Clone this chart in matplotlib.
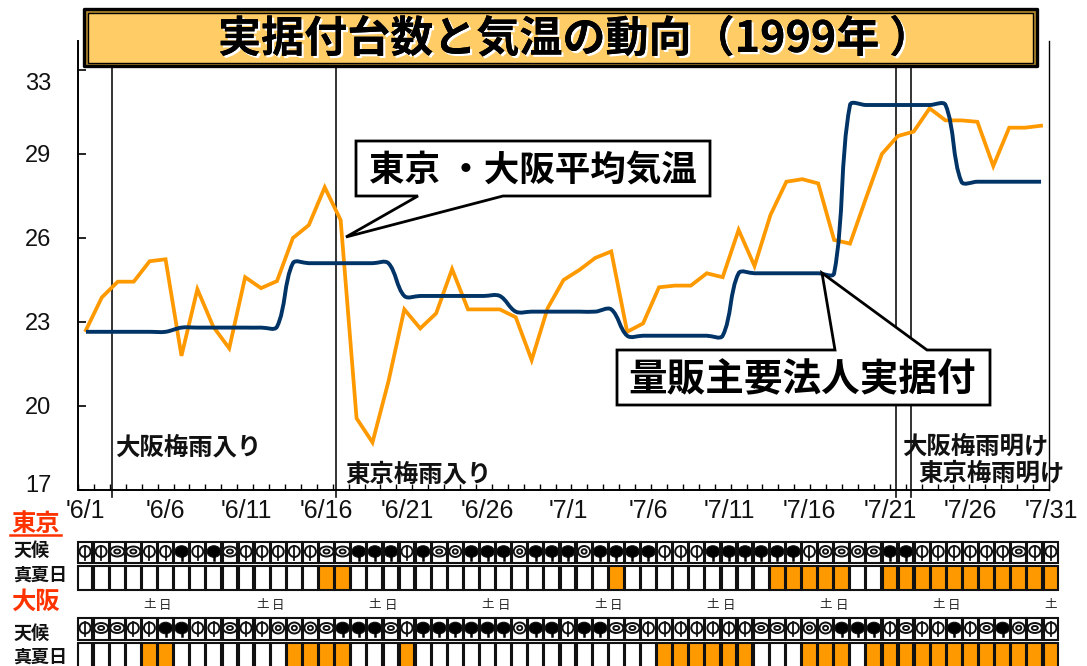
import numpy as np
import matplotlib
matplotlib.use('Agg')
import matplotlib.pyplot as plt
import matplotlib.patheffects as pe
from matplotlib.patches import Ellipse, Polygon, Rectangle, PathPatch
from matplotlib.path import Path
from matplotlib.transforms import ScaledTranslation

JP = ['Noto Sans CJK JP', 'DejaVu Sans']
plt.rcParams['font.family'] = ['Liberation Sans', 'Noto Sans CJK JP', 'DejaVu Sans']

# ---------- data ----------
temperature = [22.71, 23.88, 24.44, 24.44, 25.17, 25.24, 21.79, 24.17, 22.83, 22.06,
               24.60, 24.21, 24.46, 26.00, 26.46, 27.81, 26.64, 19.56, 18.70, 20.87,
               23.45, 22.77, 23.31, 24.89, 23.45, 23.45, 23.45, 23.17, 21.64, 23.49,
               24.50, 24.86, 25.29, 25.52, 22.65, 22.95, 24.24, 24.30, 24.30, 24.74,
               24.60, 26.29, 25.00, 26.82, 28.01, 28.10, 27.95, 25.93, 25.80, 27.42,
               29.00, 29.64, 29.80, 30.63, 30.20, 30.20, 30.15, 28.57, 29.94, 29.94, 30.01]
sales = [22.65, 22.65, 22.65, 22.65, 22.65, 22.65, 22.80, 22.80, 22.80, 22.80,
         22.80, 22.80, 22.83, 25.10, 25.10, 25.10, 25.10, 25.10, 25.10, 25.10,
         23.93, 23.93, 23.93, 23.93, 23.93, 23.93, 23.93, 23.37, 23.37, 23.37,
         23.37, 23.37, 23.37, 23.45, 22.51, 22.51, 22.51, 22.51, 22.51, 22.51,
         22.51, 24.74, 24.74, 24.74, 24.74, 24.74, 24.74, 24.74, 30.75, 30.75,
         30.75, 30.75, 30.75, 30.75, 30.75, 28.01, 28.01, 28.01, 28.01, 28.01, 28.01]
y_ticks = [17, 20, 23, 26, 29, 32]
y_tick_labels = ['17', '20', '23', '26', '29', '33']
y_label_shift_px = [-7, 0, 0, 0, 0, 11]
date_ticks = [0, 5, 10, 15, 20, 25, 30, 35, 40, 45, 50, 55, 60]
date_labels = ["'6/1", "'6/6", "'6/11", "'6/16", "'6/21", "'6/26", "'7/1",
               "'7/6", "'7/11", "'7/16", "'7/21", "'7/26", "'7/31"]
rain_events = [1.64, 15.7, 50.9, 51.8]

tokyo_weather = 'ccoocc' + 'rcroccccc' + 'oor' + 'rrcrotrrrtrrrtrrrrcccr' + 'rrrrrctotorrccccccocc'
osaka_weather = 'coocc' + 'rrccoccttto' + 'rr' + 'rocrrrrrrtrrcrroocccc' + 'c' + 'ccoocttrrrcoccrcortoc'
tokyo_hot = [15, 16, 33, 43, 44, 45, 46, 47, 50, 51, 52, 53, 54, 55, 56, 57, 58, 59, 60]
osaka_hot = [4, 5, 13, 14, 15, 16, 20, 36, 37, 38, 39, 40, 41, 45, 46, 47,
             49, 50, 51, 52, 53, 54, 55, 56, 57, 58, 59, 60]
saturdays = [4, 11, 18, 25, 32, 39, 46, 53, 60]
sundays = [5, 12, 19, 26, 33, 40, 47, 54]

W, H = 1087, 666
ORANGE = '#FF9900'
NAVY = '#003366'
RED = '#FF3300'
fig = plt.figure(figsize=(W / 100, H / 100), dpi=100, facecolor='white')


def px_axes(l, t, r, b, **kw):
    return fig.add_axes([l / W, 1 - b / H, (r - l) / W, (b - t) / H], **kw)


# ---------- main chart ----------
ax = px_axes(78, 41, 1049, 490)
n = len(temperature)
x = np.arange(n)
ax.set_xlim(-0.5, n - 0.5)
ax.set_ylim(17, 32 + 29 / 28)
ax.spines['top'].set_visible(False)
for s in ('left', 'right', 'bottom'):
    ax.spines[s].set_linewidth(1.4)
ax.spines['right'].set_linewidth(1.0)
ax.set_xticks(np.arange(-0.5, n))
ax.set_xticklabels([])
ax.tick_params(axis='x', direction='in', length=4, width=1.0)
ax.set_yticks(y_ticks)
ax.set_yticklabels(y_tick_labels, fontsize=17, color='#111111')
ax.tick_params(axis='y', direction='in', length=6, width=1.2, pad=19)
for lab, shift in zip(ax.get_yticklabels(), y_label_shift_px):
    lab.set_transform(lab.get_transform() + ScaledTranslation(0, -shift / 100, fig.dpi_scale_trans))

# smoothed line through the daily values: control arms scaled by segment length on screen
ys = np.array(sales)
SX, SY = 15.92, 28.0
P = np.column_stack([x * SX, ys * SY])
A = 0.35
out_c, in_c = np.zeros_like(P), np.zeros_like(P)
for i in range(n):
    a, b = P[max(i - 1, 0)], P[min(i + 1, n - 1)]
    d1 = np.linalg.norm(P[i] - a)
    d2 = np.linalg.norm(b - P[i])
    tot = max(d1 + d2, 1e-6)
    in_c[i] = P[i] - (b - a) * A * d1 / tot
    out_c[i] = P[i] + (b - a) * A * d2 / tot
verts = [(x[0], ys[0])]
codes = [Path.MOVETO]
for i in range(n - 1):
    verts += [(out_c[i, 0] / SX, out_c[i, 1] / SY), (in_c[i + 1, 0] / SX, in_c[i + 1, 1] / SY), (x[i + 1], ys[i + 1])]
    codes += [Path.CURVE4] * 3
ax.plot(x, temperature, color=ORANGE, lw=2.7, solid_joinstyle='miter', zorder=3)
ax.add_patch(PathPatch(Path(verts, codes), fc='none', ec=NAVY, lw=2.8, zorder=4))

trans = ax.get_xaxis_transform()
for ev in rain_events:
    ax.plot([ev, ev], [-0.016, 0.944], transform=trans, color='#111111', lw=1.2, clip_on=False, zorder=2)

# ---------- weather table ----------
CW = 982 / 61
tab = px_axes(77, 522, 1059, 666)
tab.set_xlim(-0.5, 60.5)
tab.set_ylim(666, 522)
tab.patch.set_alpha(0)
for s in tab.spines.values():
    s.set_visible(False)
tab.xaxis.tick_top()
tab.set_xticks(date_ticks)
tab.set_xticklabels(date_labels, fontsize=18, color='#111111')
tab.tick_params(axis='x', length=0, pad=-1)
tab.set_yticks([])
tab.set_facecolor('none')


def cell(i, top, bottom, fc='white'):
    tab.add_patch(Rectangle((i - 0.46, top), 0.92, bottom - top, fc=fc, ec='#111111', lw=1.5,
                            clip_on=False, zorder=2))


def ell(i, cy, w, h, fc='none', ec='#111111', lw=1.4):
    tab.add_patch(Ellipse((i, cy), w / CW, h, fc=fc, ec=ec, lw=lw, zorder=3))


def symbol(i, cy, kind):
    if kind == 'c':
        ell(i, cy, 11, 11)
        tab.plot([i, i], [cy - 6, cy + 8], color='#111111', lw=1.3, zorder=3)
    elif kind == 'o':
        ell(i, cy, 14, 10)
        ell(i, cy, 6, 4)
    elif kind == 't':
        ell(i, cy, 12, 11)
        ell(i, cy, 5, 4.5)
    else:
        ell(i, cy, 13.5, 11.5, fc='#000000', lw=0.8)
        tab.plot([i, i], [cy + 4, cy + 8], color='#000000', lw=1.8, zorder=3)


for weather, hot, (wt, wb), (ht, hb) in ((tokyo_weather, tokyo_hot, (542, 563), (566, 590)),
                                         (osaka_weather, osaka_hot, (618, 640), (643, 668))):
    for i, kind in enumerate(weather):
        cell(i, wt, wb)
        symbol(i, (wt + wb) / 2 - 1, kind)
        cell(i, ht, hb, ORANGE if i in hot else 'white')

for i in saturdays:
    tab.text(i, 605, '土', fontsize=9, family=JP, ha='center', va='center', color='#222222')
for i in sundays:
    tab.text(i, 605, '日', fontsize=9, family=JP, ha='center', va='center', color='#222222')

# ---------- overlay: title, callouts, labels ----------
ov = fig.add_axes([0, 0, 1, 1], zorder=10)
ov.set_xlim(0, W)
ov.set_ylim(H, 0)
ov.axis('off')
ov.patch.set_alpha(0)

ov.add_patch(Rectangle((84, 9), 953, 57, fc='#B58B2E', ec='#000000', lw=2.4, joinstyle='round'))
ov.add_patch(Rectangle((88, 13), 945, 49.5, fc='#FFCC66', ec='#000000', lw=1.0))
ov.text(218, 39, '実据付台数と気温の動向（1999年 ）', fontsize=31, fontweight='bold', family=JP,
        ha='left', va='center', color='#000000',
        path_effects=[pe.withSimplePatchShadow(offset=(1.6, -1.6), shadow_rgbFace='white', alpha=1.0),
                      pe.Normal()])

ov.add_patch(Polygon([(356, 141), (710, 141), (710, 196), (503, 196), (346, 237), (418, 196), (356, 196)],
                     closed=True, fc='white', ec='#000000', lw=2.0, joinstyle='miter', zorder=5))
ov.text(532.5, 171, '東京 ・大阪平均気温', fontsize=25.6, fontweight='bold', family=JP,
        ha='center', va='center', color='#000000', zorder=6)
ov.add_patch(Polygon([(617, 350), (835, 350), (822, 273), (927, 350), (990, 350), (990, 405), (617, 405)],
                     closed=True, fc='white', ec='#000000', lw=2.0, joinstyle='miter', zorder=5))
ov.text(802.5, 380, '量販主要法人実据付', fontsize=27.8, fontweight='bold', family=JP,
        ha='center', va='center', color='#000000', zorder=6)

for tx, ty, s in ((115, 447, '大阪梅雨入り'), (345, 474, '東京梅雨入り'),
                  (902, 447, '大阪梅雨明け'), (918, 474, '東京梅雨明け')):
    ov.text(tx, ty, s, fontsize=17.6, fontweight='bold', family=JP, ha='left', va='center', color='#111111')

ov.text(11, 524, '東京', fontsize=17.5, fontweight='bold', family=JP, ha='left', va='center', color=RED)
ov.plot([10, 61], [534.5, 534.5], color=RED, lw=1.8)
ov.text(11, 602, '大阪', fontsize=17.5, fontweight='bold', family=JP, ha='left', va='center', color=RED)
for ty in (550, 633):
    ov.text(13, ty, '天候', fontsize=13, fontweight='bold', family=JP, ha='left', va='center', color='#111111')
for ty in (575, 657):
    ov.text(13, ty, '真夏日', fontsize=13, fontweight='bold', family=JP, ha='left', va='center', color='#111111')

fig.savefig('out.png', dpi=100)
